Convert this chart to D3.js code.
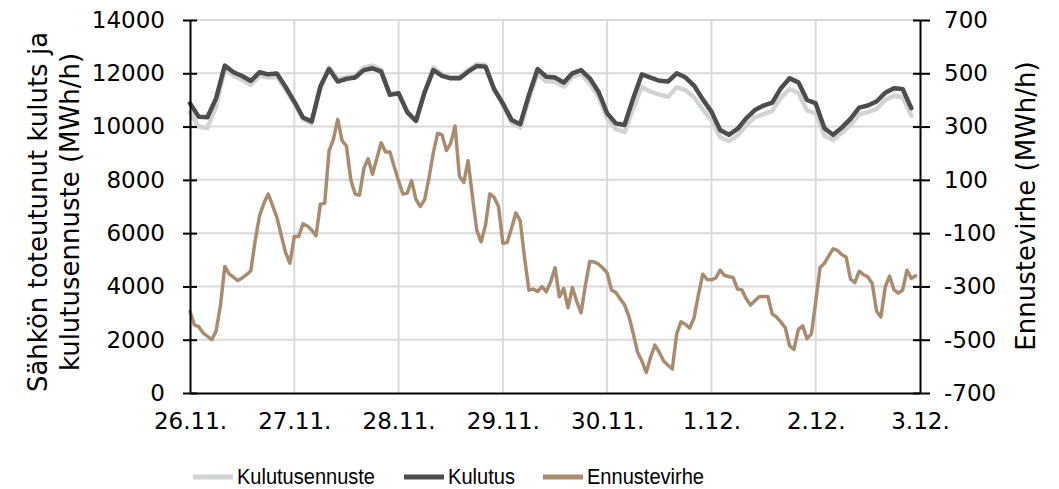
<!DOCTYPE html>
<html>
<head>
<meta charset="utf-8">
<script src="https://cdn.jsdelivr.net/npm/d3@7"></script>
<style>
  body { margin: 0; background: #fff; }
  svg { display: block; }
</style>
</head>
<body>
<svg width="1059" height="489"></svg>
<script>
var svg = d3.select("svg"),
  width = +svg.attr("width"),
  height = +svg.attr("height");

// x-akselin päivät (tunnit 0..168)
var paivat = ["26.11.", "27.11.", "28.11.", "29.11.", "30.11.", "1.12.", "2.12.", "3.12."];
var vasenTicks = [0, 2000, 4000, 6000, 8000, 10000, 12000, 14000];
var oikeaTicks = [-700, -500, -300, -100, 100, 300, 500, 700];

// Kulutus ja kulutusennuste, 2 tunnin välein (MWh/h)
var kulutus = [
  10870, 10370, 10350, 11060, 12290, 12040, 11900, 11710, 12040, 11960, 11990, 11490,
  10940, 10340, 10190, 11500, 12160, 11690, 11790, 11840, 12120, 12190, 12060, 11190,
  11250, 10540, 10210, 11290, 12120, 11900, 11810, 11810, 12060, 12270, 12250, 11400,
  10870, 10250, 10090, 11190, 12160, 11870, 11840, 11650, 12000, 12120, 11810, 11310,
  10500, 10120, 10060, 11060, 11960, 11840, 11720, 11690, 12000, 11850, 11540, 11020,
  10560, 9870, 9690, 9910, 10310, 10620, 10790, 10900, 11440, 11810, 11660, 11000,
  10870, 9940, 9690, 9960, 10290, 10710, 10790, 10940, 11270, 11440, 11410, 10690
];
var kulutusennuste = [
  10520, 10000, 9950, 10750, 12140, 11910, 11750, 11560, 11910, 11840, 11860, 11390,
  10870, 10270, 10120, 11470, 12220, 11790, 11850, 11900, 12220, 12290, 12140, 11220,
  11250, 10540, 10210, 11320, 12220, 11960, 11850, 11850, 12120, 12340, 12310, 11400,
  10810, 10150, 9960, 11040, 11970, 11690, 11690, 11500, 11870, 11970, 11620, 11120,
  10310, 9900, 9790, 10690, 11490, 11310, 11200, 11120, 11470, 11370, 11100, 10650,
  10250, 9600, 9460, 9660, 10040, 10350, 10470, 10590, 11090, 11410, 11260, 10600,
  10500, 9660, 9500, 9770, 10060, 10460, 10540, 10660, 11000, 11160, 11100, 10410
];
// Ennustevirhe tunneittain (MWh/h)
var ennustevirhe = [
  -394, -444, -451, -474, -487, -500, -468, -373, -225, -253, -265, -278,
  -268, -256, -241, -128, -35, 12, 47, 3, -41, -108, -173, -213,
  -113, -113, -65, -73, -88, -110, 9, 12, 209, 252, 327, 247,
  227, 101, 47, 42, 142, 179, 121, 180, 239, 205, 205, 149,
  96, 47, 50, 97, 27, 0, 26, 107, 202, 275, 269, 210,
  238, 302, 114, 90, 172, 37, -90, -133, -70, 48, 34, 0,
  -138, -135, -81, -24, -54, -193, -314, -310, -319, -301, -320, -283,
  -230, -339, -308, -380, -304, -356, -399, -295, -206, -208, -216, -231,
  -249, -313, -323, -346, -369, -412, -476, -547, -580, -623, -566, -520,
  -547, -580, -596, -610, -478, -433, -442, -456, -418, -332, -254, -274,
  -275, -268, -239, -259, -263, -267, -310, -313, -346, -370, -354, -339,
  -338, -338, -404, -415, -434, -455, -523, -536, -461, -448, -496, -479,
  -358, -229, -213, -185, -159, -165, -180, -190, -272, -286, -243, -256,
  -264, -289, -392, -415, -302, -261, -312, -325, -314, -239, -270, -260
];

var plotLeft = 190, plotRight = 920, plotTop = 20, plotBottom = 393;
var fontTick = "DejaVu Sans, Verdana, sans-serif";

var x = d3.scaleLinear().domain([0, 168]).range([plotLeft, plotRight]);
var yL = d3.scaleLinear().domain([0, 14000]).range([plotBottom, plotTop]);
var yR = d3.scaleLinear().domain([-700, 700]).range([plotBottom, plotTop]);

// gridlines
svg.append("g")
  .selectAll("line")
  .data(vasenTicks.slice(1))
  .enter()
  .append("line")
  .attr("x1", plotLeft).attr("x2", plotRight)
  .attr("y1", function (d) { return yL(d); })
  .attr("y2", function (d) { return yL(d); })
  .attr("stroke", "#d9d9d9")
  .attr("stroke-width", 2);

svg.append("g")
  .selectAll("line")
  .data(d3.range(1, paivat.length - 1))
  .enter()
  .append("line")
  .attr("x1", function (d) { return x(d * 24); })
  .attr("x2", function (d) { return x(d * 24); })
  .attr("y1", plotTop).attr("y2", plotBottom)
  .attr("stroke", "#d9d9d9")
  .attr("stroke-width", 2);

// lines
var tunnit2 = d3.range(0, 168, 2);
var tunnit1 = d3.range(0, 168, 1);

function piirra(arvot, tunnit, yScale, vari, leveys) {
  var line = d3.line()
    .x(function (d, i) { return x(tunnit[i]); })
    .y(function (d) { return yScale(d); });
  svg.append("path")
    .datum(arvot)
    .attr("d", line)
    .attr("fill", "none")
    .attr("stroke", vari)
    .attr("stroke-width", leveys)
    .attr("stroke-linejoin", "round")
    .attr("stroke-linecap", "round");
}

piirra(kulutusennuste, tunnit2, yL, "#d0d4d3", 4.5);
piirra(kulutus, tunnit2, yL, "#4d4d4d", 4.5);
piirra(ennustevirhe, tunnit1, yR, "#a98c6f", 3.5);

// axes
var leftAxis = d3.axisLeft(yL)
  .tickValues(vasenTicks)
  .tickFormat(function (d) { return String(d); })
  .tickSizeInner(7).tickSizeOuter(0).tickPadding(18);
var gL = svg.append("g").attr("transform", "translate(" + plotLeft + ",0)").call(leftAxis);

var rightAxis = d3.axisRight(yR)
  .tickValues(oikeaTicks)
  .tickFormat(function (d) { return String(d); })
  .tickSizeInner(10).tickSizeOuter(0).tickPadding(14);
var gR = svg.append("g").attr("transform", "translate(" + plotRight + ",0)").call(rightAxis);

var bottomAxis = d3.axisBottom(x)
  .tickValues(d3.range(0, 169, 24))
  .tickFormat(function (d) { return paivat[d / 24]; })
  .tickSize(0).tickPadding(20);
var gB = svg.append("g").attr("transform", "translate(0," + plotBottom + ")").call(bottomAxis);

[gL, gR, gB].forEach(function (g) {
  g.select(".domain").attr("stroke", "#000").attr("stroke-width", 2);
  g.selectAll(".tick line").attr("stroke", "#000").attr("stroke-width", 2);
  g.selectAll("text")
    .attr("font-family", fontTick)
    .attr("font-size", 23)
    .attr("fill", "#000");
});
// ticks cross the axis
gL.selectAll(".tick line").attr("x1", 7);
gR.selectAll(".tick line").attr("x1", -7);

// axis titles
svg.append("text")
  .attr("font-family", fontTick)
  .attr("font-size", 26)
  .attr("text-anchor", "middle")
  .attr("transform", "translate(47,212) rotate(-90)")
  .text("Sähkön toteutunut kuluts ja");
svg.append("text")
  .attr("font-family", fontTick)
  .attr("font-size", 26)
  .attr("text-anchor", "middle")
  .attr("transform", "translate(79,212) rotate(-90)")
  .text("kulutusennuste (MWh/h)");
svg.append("text")
  .attr("font-family", fontTick)
  .attr("font-size", 26)
  .attr("text-anchor", "middle")
  .attr("transform", "translate(1035,206) rotate(-90)")
  .text("Ennustevirhe (MWh/h)");

// legend
var sarjat = ["Kulutusennuste", "Kulutus", "Ennustevirhe"];
var varit = ["#d0d4d3", "#4d4d4d", "#a98c6f"];
var legendX = [193, 404, 543];
var legendLeveys = [138, 67, 117];
var legend = svg.append("g");
sarjat.forEach(function (s, i) {
  legend.append("line")
    .attr("x1", legendX[i]).attr("x2", legendX[i] + 40)
    .attr("y1", 477).attr("y2", 477)
    .attr("stroke", varit[i])
    .attr("stroke-width", 5);
  legend.append("text")
    .attr("x", legendX[i] + 44)
    .attr("y", 484)
    .attr("font-family", "Liberation Sans, Arial, sans-serif")
    .attr("font-size", 22)
    .attr("textLength", legendLeveys[i])
    .attr("lengthAdjust", "spacingAndGlyphs")
    .attr("fill", "#000")
    .text(s);
});
</script>
</body>
</html>
